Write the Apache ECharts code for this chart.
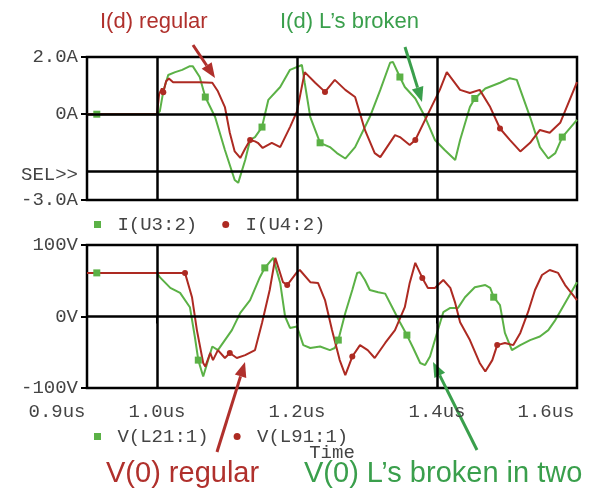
<!DOCTYPE html>
<html>
<head>
<meta charset="utf-8">
<script src="https://cdn.jsdelivr.net/npm/echarts@6/dist/echarts.min.js"></script>
<style>html,body{margin:0;padding:0;background:#fff}#main{width:589px;height:490px}</style>
</head>
<body>
<div id="main"></div>
<script>
// top plot: drain currents
var tU3 = [0.9, 0.914, 1.0, 1.004, 1.009, 1.016, 1.026, 1.036, 1.047, 1.051, 1.061, 1.069, 1.083, 1.097, 1.111, 1.116, 1.126, 1.133, 1.14, 1.15, 1.159, 1.176, 1.19, 1.207, 1.211, 1.219, 1.233, 1.247, 1.257, 1.269, 1.283, 1.304, 1.319, 1.333, 1.337, 1.347, 1.354, 1.369, 1.383, 1.397, 1.411, 1.426, 1.433, 1.447, 1.454, 1.469, 1.49, 1.504, 1.514, 1.533, 1.547, 1.559, 1.569, 1.579, 1.6];
var iU3 = [0, 0, 0, 0.1, 0.8, 1.37, 1.47, 1.55, 1.68, 1.68, 1.3, 0.6, -0.1, -1.25, -2.3, -2.4, -1.6, -0.9, -0.8, -0.45, 0.5, 0.95, 1.55, 1.72, 1.1, -0.1, -1.0, -1.15, -1.36, -1.55, -1.15, -0.1, 0.85, 1.8, 1.83, 1.3, 0.95, 0.55, -0.1, -0.9, -1.25, -1.6, -0.9, 0.25, 0.55, 0.9, 1.1, 1.26, 1.2, -0.1, -1.15, -1.55, -1.36, -0.8, -0.2];
var markU3 = [0.914, 1.069, 1.15, 1.233, 1.347, 1.454, 1.579];

var tU4 = [0.9, 1.0, 1.003, 1.007, 1.009, 1.013, 1.017, 1.023, 1.04, 1.061, 1.079, 1.087, 1.097, 1.104, 1.111, 1.119, 1.126, 1.133, 1.14, 1.144, 1.151, 1.164, 1.176, 1.19, 1.2, 1.211, 1.226, 1.24, 1.254, 1.269, 1.283, 1.297, 1.311, 1.319, 1.34, 1.347, 1.361, 1.369, 1.383, 1.404, 1.414, 1.433, 1.447, 1.461, 1.476, 1.49, 1.504, 1.519, 1.533, 1.547, 1.561, 1.576, 1.6];
var iU4 = [0, 0, 0.7, 0.9, 0.77, 1.15, 1.25, 1.12, 1.12, 1.12, 1.1, 0.8, 0.25, -0.65, -1.3, -1.53, -1.2, -0.9, -0.95, -1.0, -1.18, -1.0, -1.15, -0.45, 0.1, 1.47, 1.1, 0.78, 1.2, 0.85, 0.6, -0.55, -1.36, -1.5, -0.73, -0.8, -1.08, -0.9, -0.2, 0.85, 1.47, 0.85, 0.74, 0.85, 0.25, -0.5, -0.9, -1.3, -1.0, -0.55, -0.65, -0.3, 1.12];
var markU4 = [1.009, 1.133, 1.24, 1.369, 1.49];

// bottom plot: output voltages
var tL21 = [0.9, 0.914, 1.0, 1.004, 1.019, 1.033, 1.047, 1.054, 1.059, 1.066, 1.073, 1.079, 1.087, 1.097, 1.107, 1.119, 1.133, 1.147, 1.154, 1.166, 1.176, 1.183, 1.19, 1.2, 1.209, 1.219, 1.233, 1.247, 1.254, 1.259, 1.269, 1.279, 1.286, 1.29, 1.297, 1.304, 1.316, 1.326, 1.336, 1.347, 1.357, 1.366, 1.376, 1.383, 1.39, 1.4, 1.409, 1.419, 1.43, 1.44, 1.454, 1.469, 1.476, 1.481, 1.49, 1.497, 1.507, 1.519, 1.533, 1.547, 1.559, 1.569, 1.583, 1.6];
var vL21 = [61, 61, 61, 55, 40, 33, 13, -28, -61, -84, -61, -42, -47, -33, -19, 5, 23, 55, 68, 82, 47, 0, -16, -14, -40, -44, -42, -47, -44, -33, 5, 37, 61, 62, 51, 37, 34, 32, 13, -8, -26, -44, -65, -68, -56, -23, 6, 12, 12, 27, 41, 44, 40, 27, 16, -23, -47, -40, -33, -28, -19, -5, 19, 48];
var markL21 = [0.914, 1.059, 1.154, 1.259, 1.357, 1.481];

var tL91 = [0.9, 1.04, 1.05, 1.057, 1.066, 1.069, 1.076, 1.08, 1.087, 1.097, 1.104, 1.114, 1.126, 1.14, 1.15, 1.161, 1.169, 1.18, 1.186, 1.2, 1.204, 1.219, 1.23, 1.24, 1.25, 1.261, 1.269, 1.279, 1.29, 1.301, 1.311, 1.326, 1.34, 1.354, 1.361, 1.369, 1.379, 1.387, 1.397, 1.409, 1.419, 1.426, 1.433, 1.447, 1.461, 1.469, 1.479, 1.486, 1.497, 1.509, 1.519, 1.53, 1.54, 1.55, 1.561, 1.573, 1.583, 1.6];
var vL91 = [61, 61, 27, -19, -65, -70, -51, -61, -47, -58, -51, -58, -54, -47, -9, 37, 82, 48, 44, 62, 65, 48, 47, 23, -19, -61, -82, -56, -40, -47, -58, -37, -19, 13, 47, 75, 54, 40, 40, 51, 40, 19, -8, -33, -65, -77, -61, -40, -37, -40, -23, 6, 37, 58, 65, 61, 44, 23];
var markL91 = [1.04, 1.104, 1.186, 1.279, 1.379, 1.486];

var timeTicks = [0.9, 1.0, 1.2, 1.4, 1.6];
var timeLabels = ['0.9us', '1.0us', '1.2us', '1.4us', '1.6us'];
var ampTicks = [2, 0, -2, -3];
var ampLabels = ['2.0A', '0A', 'SEL>>', '-3.0A'];
var voltTicks = [100, 0, -100];
var voltLabels = ['100V', '0V', '-100V'];

var GREEN = '#5bb146';
var RED = '#ad2a22';
var MONO = '"Liberation Mono", "DejaVu Sans Mono", monospace';
var INK = '#444';

function pairs(ts, vs) {
    return ts.map(function (t, i) { return [t, vs[i]]; });
}
function lookup(ticks, labels, v) {
    for (var i = 0; i < ticks.length; i++) {
        if (Math.abs(ticks[i] - v) < 1e-6) return labels[i];
    }
    return '';
}
function markSize(marks, size) {
    return function (val) {
        return marks.indexOf(val[0]) >= 0 ? size : 0;
    };
}
function trace(name, data, color, symbol, size, marks, g) {
    return {
        name: name, type: 'line', data: data, xAxisIndex: g, yAxisIndex: g,
        symbol: symbol, symbolSize: markSize(marks, size), showAllSymbol: true,
        itemStyle: { color: color }, lineStyle: { color: color, width: 2 },
        z: 3
    };
}
function gridLines(g, xs, ys) {
    var d = xs.map(function (x) { return { xAxis: x }; })
        .concat(ys.map(function (y) { return { yAxis: y }; }));
    return {
        type: 'line', data: [], xAxisIndex: g, yAxisIndex: g, z: 1, silent: true,
        markLine: {
            silent: true, symbol: 'none', label: { show: false }, animation: false,
            lineStyle: { color: '#000', width: 2.5, type: 'solid' },
            data: d
        }
    };
}
function arrow(x1, y1, x2, y2, color) {
    var a = Math.atan2(y2 - y1, x2 - x1), L = 15, W = 6;
    var bx = x2 - L * Math.cos(a), by = y2 - L * Math.sin(a);
    return [{
        type: 'line', shape: { x1: x1, y1: y1, x2: bx, y2: by },
        style: { stroke: color, lineWidth: 3 }
    }, {
        type: 'polygon',
        shape: { points: [[x2, y2], [bx + W * Math.sin(a), by - W * Math.cos(a)], [bx - W * Math.sin(a), by + W * Math.cos(a)]] },
        style: { fill: color }
    }];
}
function note(text, x, y, color, size) {
    return {
        type: 'text', x: x, y: y,
        style: { text: text, fill: color, fontSize: size, fontFamily: '"Liberation Sans", Arial, sans-serif', align: 'left', verticalAlign: 'middle' }
    };
}

var axisText = { color: INK, fontFamily: MONO, fontSize: 19 };
var tickStyle = { color: '#000', width: 2 };

var myChart = echarts.init(document.getElementById('main'));
myChart.setOption({
    animation: false,
    backgroundColor: '#fff',
    grid: [
        { left: 87, top: 57, width: 490, height: 143, show: true, borderColor: '#000', borderWidth: 2.5 },
        { left: 87, top: 245, width: 490, height: 143, show: true, borderColor: '#000', borderWidth: 2.5 }
    ],
    xAxis: [{
        type: 'value', gridIndex: 0, min: 0.9, max: 1.6,
        axisLine: { show: false }, axisTick: { show: false }, axisLabel: { show: false }, splitLine: { show: false }
    }, {
        type: 'value', gridIndex: 1, min: 0.9, max: 1.6,
        name: 'Time', nameLocation: 'middle', nameGap: 55,
        nameTextStyle: axisText,
        axisLine: { show: false },
        axisTick: { show: true, customValues: timeTicks, length: 7, lineStyle: tickStyle },
        axisLabel: {
            customValues: timeTicks, margin: 14, color: INK, fontFamily: MONO, fontSize: 19,
            formatter: function (v) {
                var s = lookup(timeTicks, timeLabels, v);
                if (v === timeTicks[0]) return '{lo|' + s + '}';
                if (v === timeTicks[timeTicks.length - 1]) return '{hi|' + s + '}';
                return s;
            },
            rich: {
                lo: { padding: [0, 60, 0, 0], color: INK, fontFamily: MONO, fontSize: 19 },
                hi: { padding: [0, 62, 0, 0], color: INK, fontFamily: MONO, fontSize: 19 }
            }
        },
        splitLine: { show: false }
    }],
    yAxis: [{
        type: 'value', gridIndex: 0, min: -3, max: 2,
        axisLine: { show: false },
        axisTick: { show: true, customValues: [2, 0, -3], length: 6, lineStyle: tickStyle },
        axisLabel: {
            customValues: ampTicks, margin: 9, color: INK, fontFamily: MONO, fontSize: 19,
            formatter: function (v) {
                var s = lookup(ampTicks, ampLabels, v);
                return v === -2 ? '{sel|' + s + '}' : s;
            },
            rich: { sel: { padding: [8, 0, 0, 0], color: INK, fontFamily: MONO, fontSize: 19 } }
        },
        splitLine: { show: false }
    }, {
        type: 'value', gridIndex: 1, min: -100, max: 100, interval: 100,
        axisLine: { show: false },
        axisTick: { show: true, length: 6, lineStyle: tickStyle },
        axisLabel: {
            margin: 9, color: INK, fontFamily: MONO, fontSize: 19,
            formatter: function (v) { return lookup(voltTicks, voltLabels, v); }
        },
        splitLine: { show: false }
    }],
    legend: [{
        left: 89, top: 210, itemWidth: 7, itemHeight: 7, itemGap: 25,
        formatter: function (n) { return ' ' + n; },
        textStyle: { color: INK, fontFamily: MONO, fontSize: 19 },
        data: [{ name: 'I(U3:2)', icon: 'rect' }, { name: 'I(U4:2)', icon: 'circle' }]
    }, {
        left: 89, top: 422, itemWidth: 7, itemHeight: 7, itemGap: 25,
        formatter: function (n) { return ' ' + n; },
        textStyle: { color: INK, fontFamily: MONO, fontSize: 19 },
        data: [{ name: 'V(L21:1)', icon: 'rect' }, { name: 'V(L91:1)', icon: 'circle' }]
    }],
    series: [
        gridLines(0, [1.0, 1.2, 1.4], [0, -2]),
        gridLines(1, [1.0, 1.2, 1.4], [0]),
        trace('I(U3:2)', pairs(tU3, iU3), GREEN, 'rect', 7, markU3, 0),
        trace('I(U4:2)', pairs(tU4, iU4), RED, 'circle', 6, markU4, 0),
        trace('V(L21:1)', pairs(tL21, vL21), GREEN, 'rect', 7, markL21, 1),
        trace('V(L91:1)', pairs(tL91, vL91), RED, 'circle', 6, markL91, 1)
    ],
    graphic: [
        note('I(d) regular', 100, 22, '#b0302c', 22),
        note('I(d) L\u2019s broken', 280, 22, '#3a9f4c', 22),
        note('V(0) regular', 106, 474, '#b0302c', 29),
        note('V(0) L\u2019s broken in two', 304, 474, '#3a9f4c', 29)
    ].concat(arrow(193, 45, 215, 78, '#b0302c'))
     .concat(arrow(405, 47, 422, 102, '#3a9f4c'))
     .concat(arrow(217, 452, 245, 362, '#b0302c'))
     .concat(arrow(477, 450, 433, 362, '#3a9f4c'))
});
</script>
</body>
</html>
